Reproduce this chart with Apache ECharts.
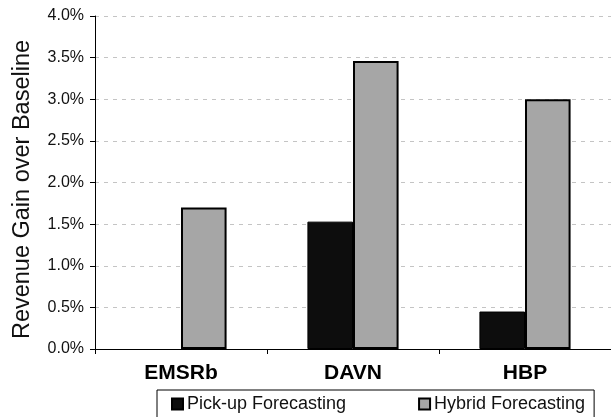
<!DOCTYPE html>
<html>
<head>
<meta charset="utf-8">
<script src="https://cdn.jsdelivr.net/npm/echarts@6/dist/echarts.min.js"></script>
<style>
html, body { margin: 0; padding: 0; background: #fff; }
#c { width: 611px; height: 417px; }
</style>
</head>
<body>
<div id="c"></div>
<script>
var categories = ['EMSRb', 'DAVN', 'HBP']
var pickupValues = [0, 1.53, 0.45]
var hybridValues = [1.70, 3.46, 3.00]
var yTicks = [0, 0.5, 1.0, 1.5, 2.0, 2.5, 3.0, 3.5, 4.0]

var font = "'Liberation Sans', Arial, sans-serif"
// a zero bar draws nothing in the original
function hideZero (arr) {
  return arr.map(function (v) { return v === 0 ? '-' : v })
}

var chart = echarts.init(document.getElementById('c'))
chart.setOption({
  animation: false,
  backgroundColor: '#fff',
  grid: { left: 95, top: 16, height: 333, width: 522 },
  legend: {
    left: 157, top: 390,
    padding: [5, 9, 14, 14],
    itemGap: 72,
    itemWidth: 11, itemHeight: 11,
    icon: 'rect',
    borderColor: '#000', borderWidth: 1, borderRadius: 0,
    textStyle: { fontFamily: font, fontSize: 18, color: '#111', padding: [0, 0, 0, -1] },
    data: ['Pick-up Forecasting', 'Hybrid Forecasting']
  },
  xAxis: {
    type: 'category',
    data: categories,
    axisLine: { lineStyle: { color: '#000', width: 1 } },
    axisTick: { show: true, length: 5, lineStyle: { color: '#000' } },
    axisLabel: { margin: 14, fontFamily: font, fontSize: 21, fontWeight: 'bold', color: '#000' }
  },
  yAxis: {
    type: 'value',
    min: yTicks[0], max: yTicks[yTicks.length - 1], interval: 0.5,
    name: 'Revenue Gain over Baseline',
    nameLocation: 'middle',
    nameGap: 60,
    nameTextStyle: { fontFamily: font, fontSize: 23.5, color: '#111', padding: [0, 14, 0, 0] },
    axisLine: { show: true, lineStyle: { color: '#000', width: 1 } },
    axisTick: { show: true, length: 5, lineStyle: { color: '#000' } },
    axisLabel: {
      margin: 11, fontFamily: font, fontSize: 16, color: '#111',
      formatter: function (v) { return v.toFixed(1) + '%' }
    },
    splitLine: { show: true, lineStyle: { color: '#c4c4c4', type: [4, 5], width: 1 } }
  },
  series: [
    {
      name: 'Pick-up Forecasting', type: 'bar', data: hideZero(pickupValues),
      barGap: '0%', barCategoryGap: '47%',
      itemStyle: { color: '#0d0d0d', borderColor: '#000', borderWidth: 1 }
    },
    {
      name: 'Hybrid Forecasting', type: 'bar', data: hideZero(hybridValues),
      barGap: '0%', barCategoryGap: '47%',
      itemStyle: { color: '#a6a6a6', borderColor: '#000', borderWidth: 2 }
    }
  ]
})
</script>
</body>
</html>
